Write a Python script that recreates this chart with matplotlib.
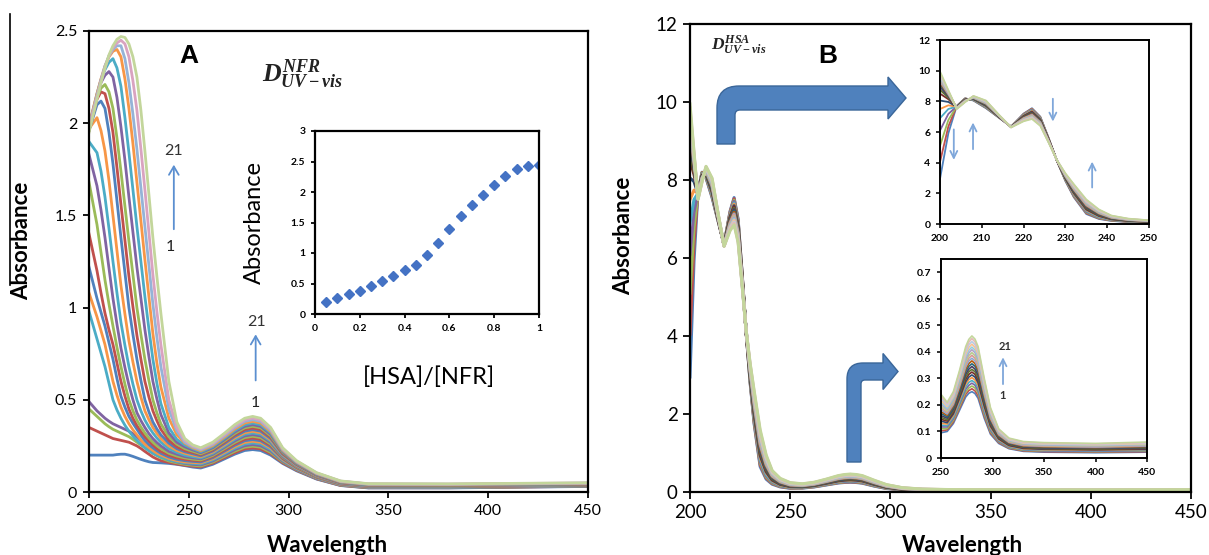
import numpy as np
import matplotlib
matplotlib.use("Agg")
import matplotlib.pyplot as plt
from matplotlib.path import Path
from matplotlib.patches import PathPatch
from matplotlib.lines import Line2D
from matplotlib.ticker import FormatStrFormatter

plt.rcParams["font.family"] = ["Lato", "DejaVu Sans"]
plt.rcParams["mathtext.fontset"] = "custom"
plt.rcParams["mathtext.it"] = "Liberation Serif:italic:bold"
plt.rcParams["mathtext.rm"] = "Liberation Serif:bold"
plt.rcParams["mathtext.bf"] = "Liberation Serif:bold"

# ---- panel A: NFR titrated with HSA, 21 spectra (one list per wavelength, curve 1..21)
abs_a = {
    200: [0.20, 0.35, 0.45, 0.49, 0.98, 1.08, 1.22, 1.40, 1.68, 1.83, 1.90, 1.97, 1.96, 1.96, 1.96, 1.97, 1.98, 1.99, 1.98, 1.97, 1.95],
    204: [0.20, 0.33, 0.41, 0.44, 0.83, 0.95, 1.05, 1.20, 1.45, 1.66, 1.84, 2.03, 2.10, 2.13, 2.14, 2.15, 2.16, 2.16, 2.15, 2.14, 2.13],
    206: [0.20, 0.32, 0.39, 0.42, 0.755, 0.875, 0.975, 1.08, 1.30, 1.53, 1.74, 1.96, 2.12, 2.17, 2.19, 2.22, 2.235, 2.24, 2.235, 2.225, 2.22],
    208: [0.20, 0.31, 0.37, 0.40, 0.68, 0.80, 0.90, 0.97, 1.15, 1.38, 1.60, 1.85, 2.08, 2.16, 2.21, 2.26, 2.29, 2.31, 2.31, 2.30, 2.30],
    210: [0.20, 0.30, 0.354, 0.384, 0.59, 0.70, 0.81, 0.88, 1.02, 1.215, 1.43, 1.69, 1.95, 2.08, 2.17, 2.28, 2.33, 2.36, 2.365, 2.365, 2.37],
    212: [0.20, 0.29, 0.34, 0.37, 0.50, 0.60, 0.72, 0.80, 0.90, 1.05, 1.25, 1.50, 1.78, 1.95, 2.08, 2.25, 2.35, 2.39, 2.40, 2.41, 2.42],
    214: [0.203, 0.285, 0.33, 0.36, 0.445, 0.525, 0.615, 0.70, 0.785, 0.91, 1.08, 1.31, 1.58, 1.76, 1.92, 2.14, 2.30, 2.40, 2.42, 2.435, 2.455],
    216: [0.205, 0.28, 0.32, 0.35, 0.40, 0.46, 0.52, 0.60, 0.68, 0.78, 0.92, 1.12, 1.38, 1.56, 1.74, 1.98, 2.20, 2.36, 2.42, 2.45, 2.47],
    218: [0.205, 0.275, 0.31, 0.34, 0.362, 0.41, 0.46, 0.52, 0.585, 0.675, 0.795, 0.965, 1.19, 1.365, 1.55, 1.80, 2.03, 2.24, 2.35, 2.43, 2.465],
    220: [0.20, 0.27, 0.30, 0.33, 0.33, 0.37, 0.41, 0.45, 0.50, 0.58, 0.68, 0.82, 1.00, 1.17, 1.36, 1.60, 1.84, 2.08, 2.22, 2.36, 2.43],
    222: [0.193, 0.26, 0.286, 0.316, 0.303, 0.337, 0.373, 0.40, 0.44, 0.50, 0.585, 0.705, 0.855, 1.005, 1.18, 1.41, 1.64, 1.89, 2.05, 2.23, 2.36],
    224: [0.185, 0.25, 0.27, 0.30, 0.28, 0.31, 0.34, 0.36, 0.39, 0.43, 0.50, 0.60, 0.72, 0.85, 1.00, 1.22, 1.44, 1.68, 1.86, 2.07, 2.25],
    226: [0.177, 0.236, 0.255, 0.28, 0.258, 0.283, 0.308, 0.328, 0.352, 0.387, 0.44, 0.515, 0.605, 0.72, 0.855, 1.05, 1.25, 1.47, 1.65, 1.86, 2.07],
    228: [0.17, 0.22, 0.24, 0.26, 0.24, 0.26, 0.28, 0.30, 0.32, 0.35, 0.39, 0.44, 0.50, 0.60, 0.72, 0.88, 1.06, 1.26, 1.44, 1.64, 1.85],
    230: [0.164, 0.205, 0.225, 0.242, 0.224, 0.241, 0.258, 0.276, 0.293, 0.317, 0.352, 0.392, 0.435, 0.515, 0.605, 0.735, 0.885, 1.06, 1.23, 1.41, 1.615],
    232: [0.16, 0.19, 0.21, 0.225, 0.21, 0.225, 0.24, 0.255, 0.27, 0.29, 0.32, 0.35, 0.38, 0.44, 0.50, 0.60, 0.72, 0.86, 1.02, 1.18, 1.38],
    234: [0.159, 0.179, 0.197, 0.21, 0.199, 0.211, 0.224, 0.236, 0.251, 0.268, 0.293, 0.318, 0.342, 0.387, 0.43, 0.505, 0.59, 0.70, 0.84, 0.98, 1.17],
    236: [0.158, 0.17, 0.185, 0.195, 0.19, 0.20, 0.21, 0.22, 0.235, 0.25, 0.27, 0.29, 0.31, 0.34, 0.37, 0.42, 0.48, 0.57, 0.68, 0.80, 0.97],
    240: [0.155, 0.16, 0.168, 0.175, 0.175, 0.182, 0.19, 0.20, 0.21, 0.22, 0.235, 0.25, 0.265, 0.28, 0.30, 0.32, 0.35, 0.40, 0.45, 0.50, 0.60],
    244: [0.15, 0.152, 0.158, 0.163, 0.165, 0.17, 0.177, 0.185, 0.195, 0.205, 0.215, 0.225, 0.235, 0.245, 0.26, 0.27, 0.285, 0.31, 0.33, 0.35, 0.38],
    248: [0.143, 0.145, 0.15, 0.155, 0.158, 0.163, 0.17, 0.177, 0.185, 0.192, 0.20, 0.21, 0.218, 0.225, 0.235, 0.245, 0.255, 0.265, 0.27, 0.28, 0.29],
    252: [0.135, 0.14, 0.145, 0.15, 0.155, 0.16, 0.166, 0.172, 0.178, 0.185, 0.192, 0.20, 0.207, 0.214, 0.221, 0.228, 0.235, 0.24, 0.245, 0.25, 0.255],
    256: [0.130, 0.136, 0.141, 0.147, 0.152, 0.158, 0.163, 0.169, 0.174, 0.180, 0.185, 0.191, 0.196, 0.202, 0.207, 0.213, 0.218, 0.224, 0.229, 0.235, 0.240],
    262: [0.150, 0.156, 0.162, 0.168, 0.174, 0.180, 0.186, 0.192, 0.198, 0.204, 0.210, 0.216, 0.222, 0.228, 0.234, 0.240, 0.246, 0.252, 0.258, 0.264, 0.270],
    268: [0.180, 0.187, 0.194, 0.201, 0.208, 0.215, 0.222, 0.229, 0.236, 0.243, 0.250, 0.257, 0.264, 0.271, 0.278, 0.285, 0.292, 0.299, 0.306, 0.313, 0.320],
    273: [0.205, 0.213, 0.221, 0.229, 0.237, 0.245, 0.253, 0.261, 0.269, 0.277, 0.285, 0.293, 0.301, 0.309, 0.317, 0.325, 0.333, 0.341, 0.349, 0.357, 0.365],
    278: [0.225, 0.234, 0.243, 0.251, 0.260, 0.269, 0.278, 0.286, 0.295, 0.304, 0.313, 0.321, 0.330, 0.339, 0.348, 0.356, 0.365, 0.374, 0.383, 0.391, 0.400],
    282: [0.230, 0.239, 0.248, 0.257, 0.266, 0.275, 0.284, 0.293, 0.302, 0.311, 0.320, 0.329, 0.338, 0.347, 0.356, 0.365, 0.374, 0.383, 0.392, 0.401, 0.410],
    286: [0.225, 0.234, 0.243, 0.251, 0.260, 0.269, 0.278, 0.286, 0.295, 0.304, 0.313, 0.321, 0.330, 0.339, 0.348, 0.356, 0.365, 0.374, 0.383, 0.391, 0.400],
    291: [0.200, 0.208, 0.215, 0.223, 0.230, 0.238, 0.245, 0.253, 0.260, 0.268, 0.275, 0.283, 0.290, 0.298, 0.305, 0.313, 0.320, 0.328, 0.335, 0.343, 0.350],
    297: [0.155, 0.159, 0.164, 0.168, 0.172, 0.176, 0.181, 0.185, 0.189, 0.193, 0.198, 0.202, 0.206, 0.210, 0.215, 0.219, 0.223, 0.227, 0.232, 0.236, 0.240],
    304: [0.115, 0.118, 0.121, 0.123, 0.126, 0.129, 0.132, 0.134, 0.137, 0.140, 0.143, 0.145, 0.148, 0.151, 0.154, 0.156, 0.159, 0.162, 0.165, 0.167, 0.170],
    314: [0.070, 0.072, 0.074, 0.075, 0.077, 0.079, 0.081, 0.082, 0.084, 0.086, 0.088, 0.089, 0.091, 0.093, 0.095, 0.096, 0.098, 0.100, 0.102, 0.103, 0.105],
    326: [0.035, 0.036, 0.038, 0.039, 0.040, 0.041, 0.043, 0.044, 0.045, 0.046, 0.048, 0.049, 0.050, 0.051, 0.053, 0.054, 0.055, 0.056, 0.058, 0.059, 0.060],
    340: [0.022, 0.023, 0.024, 0.025, 0.027, 0.028, 0.029, 0.030, 0.031, 0.032, 0.034, 0.035, 0.036, 0.037, 0.038, 0.039, 0.040, 0.042, 0.043, 0.044, 0.045],
    380: [0.022, 0.023, 0.024, 0.025, 0.026, 0.028, 0.029, 0.030, 0.031, 0.032, 0.033, 0.034, 0.035, 0.036, 0.037, 0.039, 0.040, 0.041, 0.042, 0.043, 0.044],
    450: [0.030, 0.031, 0.032, 0.033, 0.034, 0.035, 0.036, 0.037, 0.038, 0.039, 0.040, 0.041, 0.042, 0.043, 0.044, 0.045, 0.046, 0.047, 0.048, 0.049, 0.050],
}

# inset of panel A
ratio = [0.05, 0.10, 0.15, 0.20, 0.25, 0.30, 0.35, 0.40, 0.45, 0.50,
         0.55, 0.60, 0.65, 0.70, 0.75, 0.80, 0.85, 0.90, 0.95, 1.00]
abs_ratio = [0.20, 0.26, 0.32, 0.38, 0.46, 0.54, 0.62, 0.72, 0.81, 0.97,
             1.16, 1.39, 1.61, 1.79, 1.95, 2.11, 2.26, 2.37, 2.43, 2.45]

# ---- panel B: HSA titrated with NFR, 21 spectra
abs_b = {
    200: [2.95, 4.05, 5.10, 6.10, 6.90, 7.50, 8.05, 8.50, 8.75, 8.95, 9.10, 9.20, 9.30, 9.40, 9.50, 9.55, 9.60, 9.70, 9.75, 9.85, 9.95],
    202: [5.92, 6.36, 6.78, 7.18, 7.50, 7.74, 7.96, 8.14, 8.24, 8.32, 8.38, 8.42, 8.46, 8.50, 8.54, 8.56, 8.58, 8.62, 8.64, 8.68, 8.72],
    204: [7.70, 7.69, 7.68, 7.67, 7.66, 7.65, 7.64, 7.63, 7.62, 7.61, 7.60, 7.59, 7.58, 7.57, 7.56, 7.55, 7.54, 7.53, 7.52, 7.51, 7.50],
    206: [8.20, 8.19, 8.18, 8.16, 8.15, 8.14, 8.13, 8.11, 8.10, 8.09, 8.08, 8.06, 8.05, 8.04, 8.03, 8.01, 8.00, 7.99, 7.98, 7.96, 7.95],
    208: [8.05, 8.07, 8.08, 8.10, 8.11, 8.13, 8.14, 8.16, 8.17, 8.19, 8.20, 8.22, 8.23, 8.25, 8.26, 8.28, 8.29, 8.31, 8.32, 8.34, 8.35],
    211: [7.55, 7.58, 7.60, 7.63, 7.65, 7.68, 7.70, 7.73, 7.75, 7.78, 7.80, 7.83, 7.85, 7.88, 7.90, 7.93, 7.95, 7.98, 8.00, 8.03, 8.05],
    214: [6.95, 6.96, 6.97, 6.98, 6.99, 7.00, 7.01, 7.02, 7.03, 7.04, 7.05, 7.06, 7.07, 7.08, 7.09, 7.10, 7.11, 7.12, 7.13, 7.14, 7.15],
    217: [6.35, 6.35, 6.35, 6.34, 6.34, 6.34, 6.34, 6.33, 6.33, 6.33, 6.33, 6.32, 6.32, 6.32, 6.32, 6.31, 6.31, 6.31, 6.31, 6.30, 6.30],
    220: [7.20, 7.18, 7.15, 7.13, 7.10, 7.08, 7.05, 7.03, 7.00, 6.98, 6.95, 6.93, 6.90, 6.88, 6.85, 6.83, 6.80, 6.78, 6.75, 6.73, 6.70],
    222: [7.55, 7.52, 7.48, 7.45, 7.41, 7.38, 7.34, 7.31, 7.27, 7.24, 7.20, 7.17, 7.13, 7.10, 7.06, 7.03, 6.99, 6.96, 6.92, 6.89, 6.85],
    224: [7.00, 6.97, 6.94, 6.91, 6.88, 6.85, 6.82, 6.79, 6.76, 6.73, 6.70, 6.67, 6.64, 6.61, 6.58, 6.55, 6.52, 6.49, 6.46, 6.43, 6.40],
    226: [5.60, 5.59, 5.57, 5.56, 5.54, 5.53, 5.51, 5.50, 5.48, 5.47, 5.45, 5.44, 5.42, 5.41, 5.39, 5.38, 5.36, 5.35, 5.33, 5.32, 5.30],
    228: [4.10, 4.10, 4.11, 4.11, 4.11, 4.11, 4.12, 4.12, 4.12, 4.12, 4.13, 4.13, 4.13, 4.13, 4.14, 4.14, 4.14, 4.14, 4.15, 4.15, 4.15],
    230: [2.80, 2.83, 2.85, 2.88, 2.90, 2.93, 2.95, 2.98, 3.00, 3.03, 3.05, 3.08, 3.10, 3.13, 3.15, 3.18, 3.20, 3.23, 3.25, 3.28, 3.30],
    232: [1.75, 1.79, 1.84, 1.88, 1.92, 1.96, 2.01, 2.05, 2.09, 2.13, 2.18, 2.22, 2.26, 2.30, 2.35, 2.39, 2.43, 2.47, 2.52, 2.56, 2.60],
    235: [0.65, 0.70, 0.75, 0.79, 0.84, 0.89, 0.94, 0.98, 1.03, 1.08, 1.13, 1.17, 1.22, 1.27, 1.32, 1.36, 1.41, 1.46, 1.51, 1.55, 1.60],
    238: [0.33, 0.36, 0.39, 0.42, 0.45, 0.49, 0.52, 0.55, 0.58, 0.61, 0.64, 0.67, 0.70, 0.73, 0.76, 0.80, 0.83, 0.86, 0.89, 0.92, 0.95],
    241: [0.200, 0.218, 0.235, 0.253, 0.270, 0.288, 0.305, 0.323, 0.340, 0.358, 0.375, 0.393, 0.410, 0.428, 0.445, 0.463, 0.480, 0.498, 0.515, 0.533, 0.550],
    245: [0.130, 0.141, 0.152, 0.163, 0.174, 0.185, 0.196, 0.207, 0.218, 0.229, 0.240, 0.251, 0.262, 0.273, 0.284, 0.295, 0.306, 0.317, 0.328, 0.339, 0.350],
    250: [0.095, 0.102, 0.110, 0.117, 0.124, 0.131, 0.139, 0.146, 0.153, 0.160, 0.168, 0.175, 0.182, 0.189, 0.196, 0.204, 0.211, 0.218, 0.226, 0.233, 0.240],
    256: [0.100, 0.106, 0.111, 0.117, 0.122, 0.128, 0.133, 0.139, 0.144, 0.150, 0.155, 0.161, 0.166, 0.172, 0.177, 0.183, 0.188, 0.194, 0.199, 0.205, 0.210],
    262: [0.130, 0.136, 0.142, 0.148, 0.154, 0.160, 0.166, 0.172, 0.178, 0.184, 0.190, 0.196, 0.202, 0.208, 0.214, 0.220, 0.226, 0.232, 0.238, 0.244, 0.250],
    268: [0.180, 0.188, 0.195, 0.203, 0.210, 0.218, 0.225, 0.233, 0.240, 0.248, 0.255, 0.263, 0.270, 0.278, 0.285, 0.293, 0.300, 0.308, 0.315, 0.323, 0.330],
    274: [0.230, 0.240, 0.249, 0.259, 0.268, 0.278, 0.287, 0.297, 0.306, 0.316, 0.325, 0.335, 0.344, 0.354, 0.363, 0.373, 0.382, 0.392, 0.401, 0.411, 0.420],
    277: [0.244, 0.254, 0.264, 0.274, 0.285, 0.295, 0.305, 0.315, 0.325, 0.335, 0.346, 0.356, 0.366, 0.376, 0.386, 0.396, 0.406, 0.417, 0.427, 0.437, 0.447],
    280: [0.250, 0.261, 0.271, 0.282, 0.292, 0.303, 0.313, 0.324, 0.334, 0.345, 0.355, 0.366, 0.376, 0.387, 0.397, 0.408, 0.418, 0.429, 0.439, 0.450, 0.460],
    283: [0.243, 0.253, 0.264, 0.274, 0.284, 0.294, 0.305, 0.315, 0.325, 0.335, 0.346, 0.356, 0.366, 0.376, 0.386, 0.397, 0.407, 0.417, 0.427, 0.438, 0.448],
    286: [0.225, 0.235, 0.245, 0.254, 0.264, 0.274, 0.284, 0.293, 0.303, 0.313, 0.323, 0.332, 0.342, 0.352, 0.362, 0.371, 0.381, 0.391, 0.401, 0.410, 0.420],
    292: [0.150, 0.158, 0.165, 0.173, 0.180, 0.188, 0.195, 0.203, 0.210, 0.218, 0.225, 0.233, 0.240, 0.248, 0.255, 0.263, 0.270, 0.278, 0.285, 0.293, 0.300],
    298: [0.090, 0.095, 0.100, 0.105, 0.110, 0.115, 0.120, 0.125, 0.130, 0.135, 0.140, 0.145, 0.150, 0.155, 0.160, 0.165, 0.170, 0.175, 0.180, 0.185, 0.190],
    306: [0.055, 0.058, 0.061, 0.063, 0.066, 0.069, 0.072, 0.074, 0.077, 0.080, 0.083, 0.085, 0.088, 0.091, 0.094, 0.096, 0.099, 0.102, 0.105, 0.107, 0.110],
    316: [0.035, 0.037, 0.039, 0.041, 0.043, 0.045, 0.047, 0.049, 0.051, 0.053, 0.055, 0.057, 0.059, 0.061, 0.063, 0.065, 0.067, 0.069, 0.071, 0.073, 0.075],
    330: [0.025, 0.027, 0.029, 0.031, 0.032, 0.034, 0.036, 0.038, 0.040, 0.042, 0.044, 0.045, 0.047, 0.049, 0.051, 0.053, 0.055, 0.056, 0.058, 0.060, 0.062],
    350: [0.022, 0.024, 0.026, 0.027, 0.029, 0.031, 0.033, 0.035, 0.036, 0.038, 0.040, 0.042, 0.044, 0.045, 0.047, 0.049, 0.051, 0.053, 0.054, 0.056, 0.058],
    400: [0.020, 0.022, 0.024, 0.025, 0.027, 0.029, 0.031, 0.032, 0.034, 0.036, 0.038, 0.039, 0.041, 0.043, 0.045, 0.046, 0.048, 0.050, 0.052, 0.053, 0.055],
    450: [0.022, 0.024, 0.026, 0.028, 0.030, 0.032, 0.033, 0.035, 0.037, 0.039, 0.041, 0.043, 0.045, 0.047, 0.049, 0.051, 0.052, 0.054, 0.056, 0.058, 0.060],
}

base6 = ["#4F81BD", "#C0504D", "#9BBB59", "#8064A2", "#4BACC6", "#F79646"]
pal_a = base6 * 3 + ["#95B3D7", "#D9A3C0", "#C3D69B"]
pal_b = base6 + ["#2C4D75", "#772C2A", "#5F7530", "#4D3B62", "#276A7C", "#B65708",
                 "#8EA9CF", "#D99694", "#B7CC8E", "#B3A2C7", "#93CDDD", "#FAC090",
                 "#B9CDE5", "#E6B9B8", "#C3D69B"]

W, H = 1209, 555
fig = plt.figure(figsize=(W / 100, H / 100), dpi=100)


def box(l, t, r, b):
    return [l / W, 1 - b / H, (r - l) / W, (b - t) / H]


def fp(x, y):
    return (x / W, 1 - y / H)


def style(ax, size, lw=1.6, tl=4.5, bold=False):
    for s in ax.spines.values():
        s.set_linewidth(lw)
    ax.tick_params(direction="out", length=tl, width=lw * 0.8, labelsize=size, pad=4)
    if bold:
        for lab in ax.get_xticklabels() + ax.get_yticklabels():
            lab.set_fontweight("bold")


def bent_arrow(x0, x1, ybot, ytop, yband, xhead, xtip, hh, r, ri):
    ym = (ytop + yband) / 2
    pts = [(x0, ybot), (x0, ytop + r), (x0, ytop), (x0 + r, ytop), (xhead, ytop),
           (xhead, ym - hh), (xtip, ym), (xhead, ym + hh), (xhead, yband),
           (x1 + ri, yband), (x1, yband), (x1, yband + ri), (x1, ybot), (x0, ybot)]
    codes = [Path.MOVETO, Path.LINETO, Path.CURVE3, Path.CURVE3, Path.LINETO,
             Path.LINETO, Path.LINETO, Path.LINETO, Path.LINETO,
             Path.LINETO, Path.CURVE3, Path.CURVE3, Path.LINETO, Path.CLOSEPOLY]
    path = Path([fp(x, y) for x, y in pts], codes)
    fig.patches.append(PathPatch(path, facecolor="#4F81BD", edgecolor="#3A6699",
                                 lw=1.0, transform=fig.transFigure, zorder=5))


# ================= panel A =================
wl_a = sorted(abs_a)
spec_a = np.array([abs_a[w] for w in wl_a]).T
axA = fig.add_axes(box(89, 31, 588, 492))
for k in range(21):
    axA.plot(wl_a, spec_a[k], color=pal_a[k], lw=2.0)
axA.set_xlim(200, 450)
axA.set_ylim(0, 2.5)
axA.set_xticks(range(200, 451, 50))
axA.set_yticks([0, 0.5, 1, 1.5, 2, 2.5])
axA.yaxis.set_major_formatter(FormatStrFormatter("%g"))
style(axA, 11.5)

axA.annotate("", xy=(242.5, 1.79), xytext=(242.5, 1.41),
             arrowprops=dict(arrowstyle="->,head_width=0.35,head_length=0.6",
                             color="#5B8FD0", lw=1.3))
axA.text(242.5, 1.85, "21", ha="center", va="center", fontsize=11.5, color="#333333")
axA.text(240.5, 1.33, "1", ha="center", va="center", fontsize=11.5, color="#222222")
axA.annotate("", xy=(283.5, 0.87), xytext=(283.5, 0.59),
             arrowprops=dict(arrowstyle="->,head_width=0.35,head_length=0.6",
                             color="#5B8FD0", lw=1.3))
axA.text(283.7, 0.92, "21", ha="center", va="center", fontsize=11.5, color="#333333")
axA.text(283.3, 0.485, "1", ha="center", va="center", fontsize=11.5, color="#222222")

fig.text(*fp(189, 56), "A", fontsize=19, fontweight="bold", family="Liberation Sans",
         ha="center", va="center")
fig.text(*fp(262, 74), r"$D^{NFR}_{UV-vis}$", fontsize=18.5, ha="left", va="center", color="#222222")
fig.text(*fp(22, 241), "Absorbance", rotation=90, fontsize=16, fontweight="bold",
         ha="center", va="center")
fig.text(*fp(327, 545), "Wavelength", fontsize=16, fontweight="bold", ha="center", va="center")

# inset of A
axAi = fig.add_axes(box(315, 131, 539, 314))
axAi.plot(ratio, abs_ratio, linestyle="none", marker="D", ms=5, color="#4472C4")
axAi.set_xlim(0, 1)
axAi.set_ylim(0, 3)
axAi.set_xticks([0, 0.2, 0.4, 0.6, 0.8, 1])
axAi.set_yticks([0, 0.5, 1, 1.5, 2, 2.5, 3])
axAi.xaxis.set_major_formatter(FormatStrFormatter("%g"))
axAi.yaxis.set_major_formatter(FormatStrFormatter("%g"))
style(axAi, 7.5, lw=1.6, tl=3, bold=True)
fig.text(*fp(254, 222), "Absorbance", rotation=90, fontsize=17, ha="center", va="center")
fig.text(*fp(429, 377), "[HSA]/[NFR]", fontsize=17, ha="center", va="center")

# stray frame line at the far left of the original figure
fig.add_artist(Line2D([10 / W, 10 / W], [1 - 14 / H, 1 - 285 / H], color="black", lw=1.2))

# ================= panel B =================
wl_b = sorted(abs_b)
spec_b = np.array([abs_b[w] for w in wl_b]).T
axB = fig.add_axes(box(690, 24, 1191, 492))
for k in range(21):
    axB.plot(wl_b, spec_b[k], color=pal_b[k], lw=2.2)
axB.set_xlim(200, 450)
axB.set_ylim(0, 12)
axB.set_xticks(range(200, 451, 50))
axB.set_yticks(range(0, 13, 2))
style(axB, 13.5, tl=5)

fig.text(*fp(828, 56), "B", fontsize=19, fontweight="bold", family="Liberation Sans",
         ha="center", va="center")
fig.text(*fp(711, 45), r"$D^{HSA}_{UV-vis}$", fontsize=12.5, ha="left", va="center", color="#222222")
fig.text(*fp(624, 236), "Absorbance", rotation=90, fontsize=16, fontweight="bold",
         ha="center", va="center")
fig.text(*fp(962, 545), "Wavelength", fontsize=16, fontweight="bold", ha="center", va="center")

bent_arrow(717, 735, 144, 86, 110, 888, 906, 21, 22, 5)
bent_arrow(847, 861, 462, 363, 380, 883, 898, 18, 16, 4)

# top inset of B: 200-250 nm
axBt = fig.add_axes(box(940, 40, 1149, 224))
for k in range(21):
    axBt.plot(wl_b, spec_b[k], color=pal_b[k], lw=1.3)
axBt.set_xlim(200, 250)
axBt.set_ylim(0, 12)
axBt.set_xticks(range(200, 251, 10))
axBt.set_yticks(range(0, 13, 2))
style(axBt, 7.5, lw=1.4, tl=3, bold=True)
arw = dict(arrowstyle="->,head_width=0.25,head_length=0.5", color="#7FA7DA", lw=1.3)
axBt.annotate("", xy=(203.3, 4.0), xytext=(203.3, 6.35), arrowprops=arw)
axBt.annotate("", xy=(207.9, 6.8), xytext=(207.9, 4.7), arrowprops=arw)
axBt.annotate("", xy=(227.0, 6.5), xytext=(227.0, 8.35), arrowprops=arw)
axBt.annotate("", xy=(236.4, 4.25), xytext=(236.4, 2.2), arrowprops=arw)

# bottom inset of B: 250-450 nm
axBb = fig.add_axes(box(941, 259, 1147, 458))
for k in range(21):
    axBb.plot(wl_b, spec_b[k], color=pal_b[k], lw=1.2)
axBb.set_xlim(250, 450)
axBb.set_ylim(0, 0.75)
axBb.set_xticks(range(250, 451, 50))
axBb.set_yticks([0, 0.1, 0.2, 0.3, 0.4, 0.5, 0.6, 0.7])
axBb.yaxis.set_major_formatter(FormatStrFormatter("%g"))
style(axBb, 7.5, lw=1.4, tl=3, bold=True)
axBb.annotate("", xy=(310.2, 0.39), xytext=(310.2, 0.268), arrowprops=arw)
axBb.text(312, 0.42, "21", ha="center", va="center", fontsize=8, fontweight="bold", color="#333333")
axBb.text(310, 0.235, "1", ha="center", va="center", fontsize=8, fontweight="bold", color="#333333")

fig.savefig("out.png", dpi=100)
